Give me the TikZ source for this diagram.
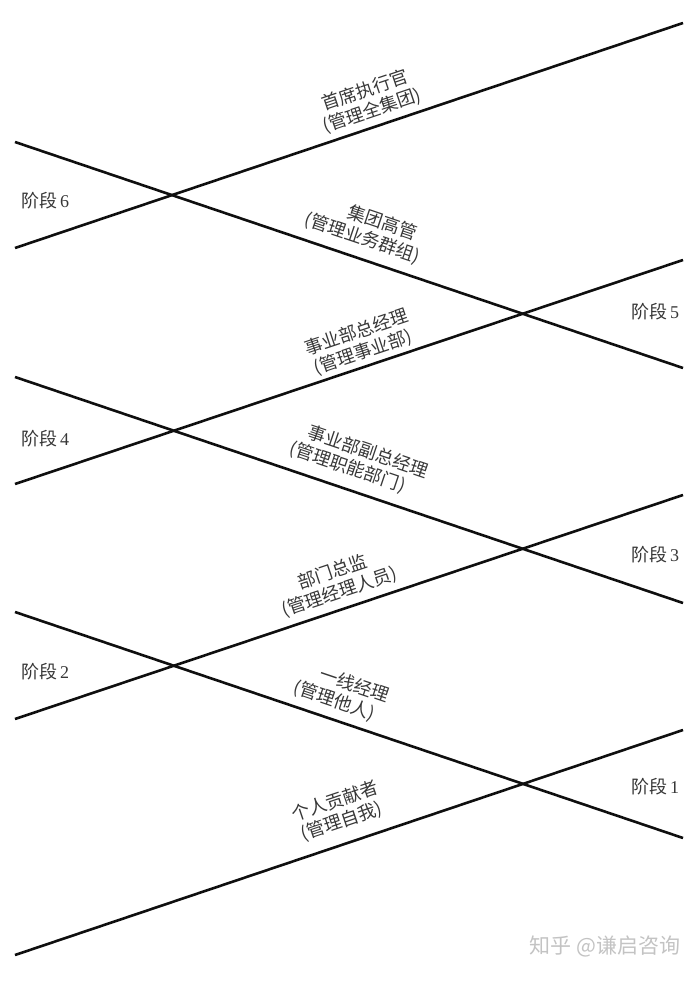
\documentclass[tikz,border=0pt]{standalone}
\usepackage{fontspec}
\setmainfont{Liberation Serif}
\newfontfamily\cjk{Noto Sans CJK SC}
\definecolor{Ink}{RGB}{15, 15, 15}
\definecolor{Label}{RGB}{55, 55, 55}
\definecolor{Mark}{RGB}{195, 195, 195}
\usetikzlibrary{positioning}

\begin{document}
\begin{tikzpicture}[x=1pt, y=-1pt,
  every node/.style={font=\cjk\fontsize{18}{21}\selectfont, text=Label, align=center},
  track/.style={draw=Ink, line width=2.6pt},
  role/.style={sloped, pos=#1}]
\useasboundingbox (0,0) rectangle (698,981);
\coordinate (u1l) at (15,248); \coordinate (u1r) at (683,23);
\coordinate (d1l) at (15,142); \coordinate (d1r) at (683,368);
\coordinate (u2l) at (15,484); \coordinate (u2r) at (683,260);
\coordinate (d2l) at (15,377); \coordinate (d2r) at (683,603);
\coordinate (u3l) at (15,719); \coordinate (u3r) at (683,495);
\coordinate (d3l) at (15,612); \coordinate (d3r) at (683,838);
\coordinate (u4l) at (15,955); \coordinate (u4r) at (683,730);

\draw[track] (u1l) -- node[role=0.542, above=2pt] (ceo) {首席执行官\\(管理全集团)} (u1r);
\draw[track] (d1l) -- node[role=0.510, above=6pt] (group) {\hspace*{1.6em}集团高管\\(管理业务群组)} (d1r);
\draw[track] (u2l) -- node[role=0.528, above=0pt] (bu) {事业部总经理\\(管理事业部)} (u2r);
\draw[track] (d2l) -- node[role=0.488, above=7pt] (vicebu) {\hspace*{1.6em}事业部副总经理\\(管理职能部门)} (d2r);
\draw[track] (u3l) -- node[role=0.494, above=3pt] (dept) {部门总监\\(管理经理人员)} (u3r);
\draw[track] (d3l) -- node[role=0.469, above=4pt] (line) {\hspace*{1.6em}一线经理\\(管理他人)} (d3r);
\draw[track] (u4l) -- node[role=0.50, above=8pt] (self) {个人贡献者\\(管理自我)} (u4r);

\node (s6) at (45,201) {阶段\,{\rmfamily 6}};
\node (s5) at (655,312) {阶段\,{\rmfamily 5}};
\node (s4) at (45,439) {阶段\,{\rmfamily 4}};
\node (s3) at (655,555) {阶段\,{\rmfamily 3}};
\node (s2) at (45,672) {阶段\,{\rmfamily 2}};
\node (s1) at (655,787) {阶段\,{\rmfamily 1}};

\node[text=Mark, font=\cjk\fontsize{21}{24}\selectfont] (mark) at (605,946) {知乎 @谦启咨询};
\end{tikzpicture}
\end{document}
